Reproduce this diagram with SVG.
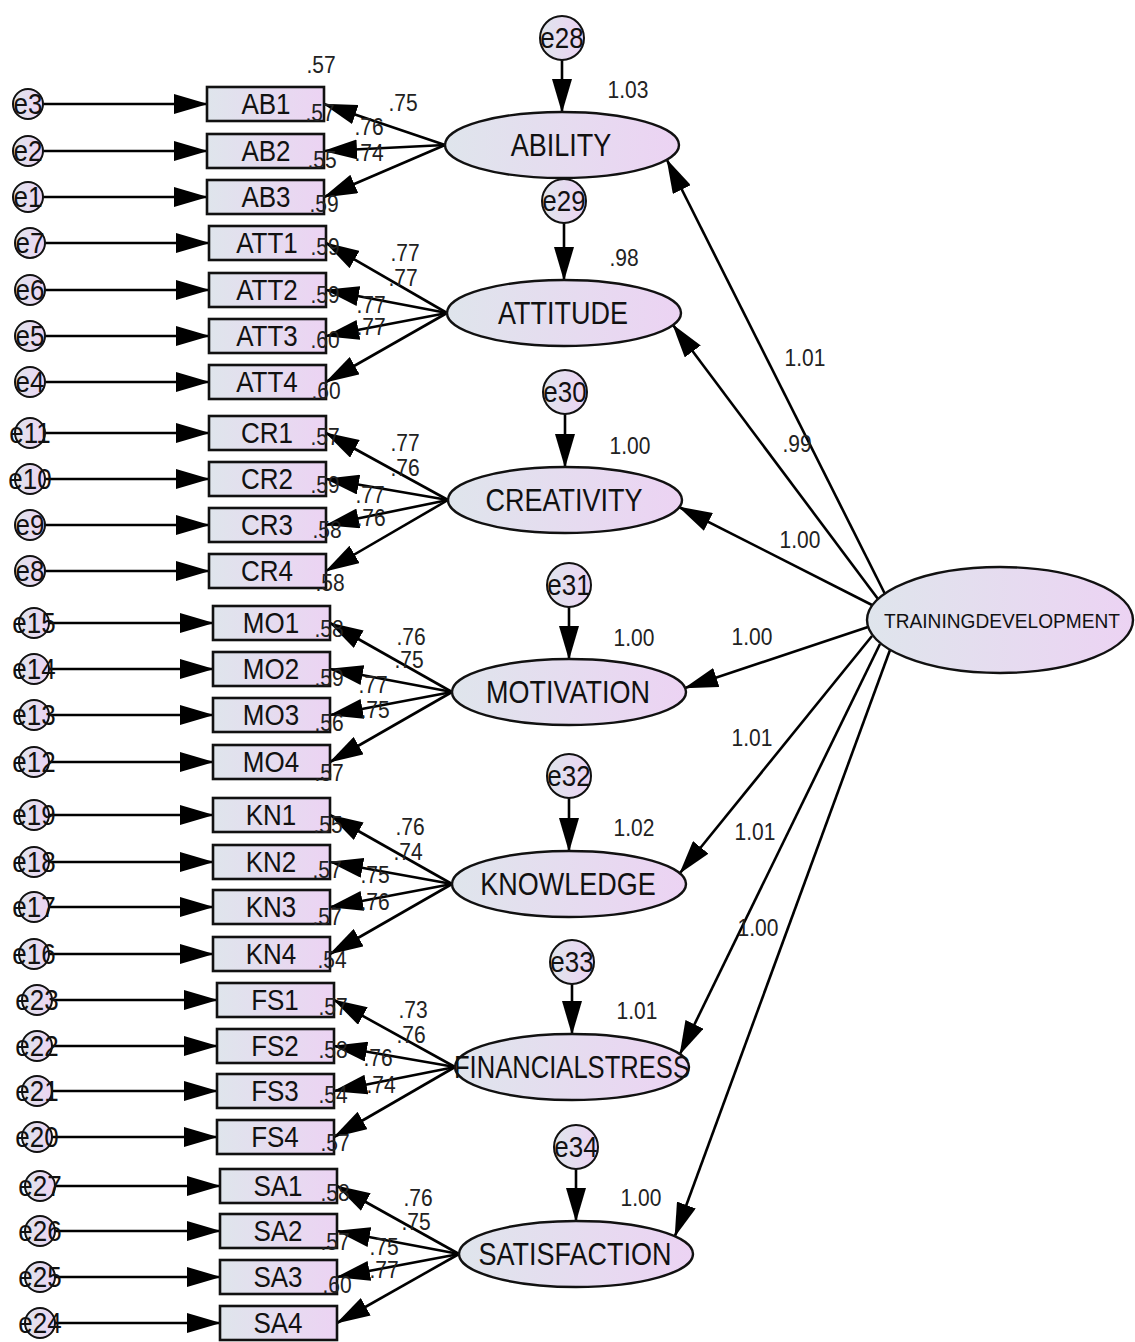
<svg xmlns="http://www.w3.org/2000/svg" width="1135" height="1342" viewBox="0 0 1135 1342">
<defs>
<linearGradient id="g" x1="0" y1="0" x2="1" y2="0">
<stop offset="0" stop-color="#dfe5ec"/>
<stop offset="1" stop-color="#ecd3f3"/>
</linearGradient>
<marker id="ah" viewBox="0 0 34 20" refX="33" refY="10" markerWidth="34" markerHeight="20" markerUnits="userSpaceOnUse" orient="auto">
<path d="M0,0 L34,10 L0,20 z" fill="#000"/>
</marker>
</defs>
<style>
.box{fill:url(#g);stroke:#111;stroke-width:2.6}
.lat{fill:url(#g);stroke:#111;stroke-width:2.4}
.err{fill:url(#g);stroke:#111;stroke-width:2}
text{transform-box:fill-box;transform-origin:center;transform:scaleY(1.14)}
.t{font-family:"Liberation Sans",Arial,sans-serif;font-size:26px;fill:#111;text-anchor:middle}
.tl{font-family:"Liberation Sans",Arial,sans-serif;font-size:27px;fill:#111;text-anchor:middle}
.ts{font-family:"Liberation Sans",Arial,sans-serif;font-size:18px;fill:#111;text-anchor:middle}
.n{font-family:"Liberation Sans",Arial,sans-serif;font-size:21px;fill:#222;text-anchor:middle}
.c line{stroke:#000;stroke-width:2.6;marker-end:url(#ah)}
</style>
<rect width="1135" height="1342" fill="#fff"/>

<g id="connectors" class="c">
<line x1="43" y1="104" x2="207" y2="104"/>
<line x1="43" y1="151" x2="207" y2="151"/>
<line x1="43" y1="197" x2="207" y2="197"/>
<line x1="45" y1="243" x2="209" y2="243"/>
<line x1="45" y1="290" x2="209" y2="290"/>
<line x1="45" y1="336" x2="209" y2="336"/>
<line x1="45" y1="382" x2="209" y2="382"/>
<line x1="45" y1="433" x2="209" y2="433"/>
<line x1="45" y1="479" x2="209" y2="479"/>
<line x1="45" y1="525" x2="209" y2="525"/>
<line x1="45" y1="571" x2="209" y2="571"/>
<line x1="49" y1="623" x2="213" y2="623"/>
<line x1="49" y1="669" x2="213" y2="669"/>
<line x1="49" y1="715" x2="213" y2="715"/>
<line x1="49" y1="762" x2="213" y2="762"/>
<line x1="49" y1="815" x2="213" y2="815"/>
<line x1="49" y1="862" x2="213" y2="862"/>
<line x1="49" y1="907" x2="213" y2="907"/>
<line x1="49" y1="954" x2="213" y2="954"/>
<line x1="52" y1="1000" x2="217" y2="1000"/>
<line x1="52" y1="1046" x2="217" y2="1046"/>
<line x1="52" y1="1091" x2="217" y2="1091"/>
<line x1="52" y1="1137" x2="217" y2="1137"/>
<line x1="55" y1="1186" x2="220" y2="1186"/>
<line x1="55" y1="1231" x2="220" y2="1231"/>
<line x1="55" y1="1277" x2="220" y2="1277"/>
<line x1="55" y1="1323" x2="220" y2="1323"/>
<line x1="445" y1="145" x2="324" y2="104"/>
<line x1="445" y1="145" x2="324" y2="151"/>
<line x1="445" y1="145" x2="324" y2="197"/>
<line x1="447" y1="313" x2="326" y2="243"/>
<line x1="447" y1="313" x2="326" y2="290"/>
<line x1="447" y1="313" x2="326" y2="336"/>
<line x1="447" y1="313" x2="326" y2="382"/>
<line x1="448" y1="500" x2="326" y2="433"/>
<line x1="448" y1="500" x2="326" y2="479"/>
<line x1="448" y1="500" x2="326" y2="525"/>
<line x1="448" y1="500" x2="326" y2="571"/>
<line x1="452" y1="692" x2="330" y2="623"/>
<line x1="452" y1="692" x2="330" y2="669"/>
<line x1="452" y1="692" x2="330" y2="715"/>
<line x1="452" y1="692" x2="330" y2="762"/>
<line x1="452" y1="884" x2="330" y2="815"/>
<line x1="452" y1="884" x2="330" y2="862"/>
<line x1="452" y1="884" x2="330" y2="907"/>
<line x1="452" y1="884" x2="330" y2="954"/>
<line x1="455" y1="1067" x2="334" y2="1000"/>
<line x1="455" y1="1067" x2="334" y2="1046"/>
<line x1="455" y1="1067" x2="334" y2="1091"/>
<line x1="455" y1="1067" x2="334" y2="1137"/>
<line x1="459" y1="1254" x2="337" y2="1186"/>
<line x1="459" y1="1254" x2="337" y2="1231"/>
<line x1="459" y1="1254" x2="337" y2="1277"/>
<line x1="459" y1="1254" x2="337" y2="1323"/>
<line x1="562" y1="60" x2="562" y2="112"/>
<line x1="564" y1="223" x2="564" y2="280"/>
<line x1="565" y1="414" x2="565" y2="467"/>
<line x1="569" y1="607" x2="569" y2="659"/>
<line x1="569" y1="798" x2="569" y2="851"/>
<line x1="572" y1="984" x2="572" y2="1034"/>
<line x1="576" y1="1169" x2="576" y2="1221"/>
<line x1="885" y1="594" x2="667" y2="160"/>
<line x1="878" y1="599" x2="673" y2="325"/>
<line x1="872" y1="605" x2="679" y2="507"/>
<line x1="868" y1="627" x2="685" y2="688"/>
<line x1="872" y1="636" x2="680" y2="873"/>
<line x1="880" y1="644" x2="680" y2="1054"/>
<line x1="890" y1="650" x2="675" y2="1236"/>
</g>

<g id="TRAININGDEVELOPMENT"><ellipse class="lat" cx="1000" cy="620" rx="133" ry="53"/><text class="ts" x="1002" y="627" textLength="236" lengthAdjust="spacingAndGlyphs">TRAININGDEVELOPMENT</text></g>

<g id="ABILITY"><ellipse class="lat" cx="562" cy="145" rx="117" ry="33"/><text class="tl" x="561" y="155">ABILITY</text></g>
<g id="ATTITUDE"><ellipse class="lat" cx="564" cy="313" rx="117" ry="33"/><text class="tl" x="563" y="323">ATTITUDE</text></g>
<g id="CREATIVITY"><ellipse class="lat" cx="565" cy="500" rx="117" ry="33"/><text class="tl" x="564" y="510">CREATIVITY</text></g>
<g id="MOTIVATION"><ellipse class="lat" cx="569" cy="692" rx="117" ry="33"/><text class="tl" x="568" y="702">MOTIVATION</text></g>
<g id="KNOWLEDGE"><ellipse class="lat" cx="569" cy="884" rx="117" ry="33"/><text class="tl" x="568" y="894">KNOWLEDGE</text></g>
<g id="FINANCIALSTRESS"><ellipse class="lat" cx="572" cy="1067" rx="117" ry="33"/><text class="tl" x="572" y="1077" textLength="236" lengthAdjust="spacingAndGlyphs">FINANCIALSTRESS</text></g>
<g id="SATISFACTION"><ellipse class="lat" cx="576" cy="1254" rx="117" ry="33"/><text class="tl" x="575" y="1264">SATISFACTION</text></g>

<g id="e28"><circle class="err" cx="562" cy="38" r="22"/><text class="t" x="562" y="47">e28</text></g>
<g id="e29"><circle class="err" cx="564" cy="201" r="22"/><text class="t" x="564" y="210">e29</text></g>
<g id="e30"><circle class="err" cx="565" cy="392" r="22"/><text class="t" x="565" y="401">e30</text></g>
<g id="e31"><circle class="err" cx="569" cy="585" r="22"/><text class="t" x="569" y="594">e31</text></g>
<g id="e32"><circle class="err" cx="569" cy="776" r="22"/><text class="t" x="569" y="785">e32</text></g>
<g id="e33"><circle class="err" cx="572" cy="962" r="22"/><text class="t" x="572" y="971">e33</text></g>
<g id="e34"><circle class="err" cx="576" cy="1147" r="22"/><text class="t" x="576" y="1156">e34</text></g>

<g id="AB1"><rect class="box" x="207" y="87" width="117" height="34"/><text class="t" x="266" y="113">AB1</text></g>
<g id="AB2"><rect class="box" x="207" y="134" width="117" height="34"/><text class="t" x="266" y="160">AB2</text></g>
<g id="AB3"><rect class="box" x="207" y="180" width="117" height="34"/><text class="t" x="266" y="206">AB3</text></g>
<g id="ATT1"><rect class="box" x="209" y="226" width="117" height="34"/><text class="t" x="267" y="252">ATT1</text></g>
<g id="ATT2"><rect class="box" x="209" y="273" width="117" height="34"/><text class="t" x="267" y="299">ATT2</text></g>
<g id="ATT3"><rect class="box" x="209" y="319" width="117" height="34"/><text class="t" x="267" y="345">ATT3</text></g>
<g id="ATT4"><rect class="box" x="209" y="365" width="117" height="34"/><text class="t" x="267" y="391">ATT4</text></g>
<g id="CR1"><rect class="box" x="209" y="416" width="117" height="34"/><text class="t" x="267" y="442">CR1</text></g>
<g id="CR2"><rect class="box" x="209" y="462" width="117" height="34"/><text class="t" x="267" y="488">CR2</text></g>
<g id="CR3"><rect class="box" x="209" y="508" width="117" height="34"/><text class="t" x="267" y="534">CR3</text></g>
<g id="CR4"><rect class="box" x="209" y="554" width="117" height="34"/><text class="t" x="267" y="580">CR4</text></g>
<g id="MO1"><rect class="box" x="213" y="606" width="117" height="34"/><text class="t" x="271" y="632">MO1</text></g>
<g id="MO2"><rect class="box" x="213" y="652" width="117" height="34"/><text class="t" x="271" y="678">MO2</text></g>
<g id="MO3"><rect class="box" x="213" y="698" width="117" height="34"/><text class="t" x="271" y="724">MO3</text></g>
<g id="MO4"><rect class="box" x="213" y="745" width="117" height="34"/><text class="t" x="271" y="771">MO4</text></g>
<g id="KN1"><rect class="box" x="213" y="798" width="117" height="34"/><text class="t" x="271" y="824">KN1</text></g>
<g id="KN2"><rect class="box" x="213" y="845" width="117" height="34"/><text class="t" x="271" y="871">KN2</text></g>
<g id="KN3"><rect class="box" x="213" y="890" width="117" height="34"/><text class="t" x="271" y="916">KN3</text></g>
<g id="KN4"><rect class="box" x="213" y="937" width="117" height="34"/><text class="t" x="271" y="963">KN4</text></g>
<g id="FS1"><rect class="box" x="217" y="983" width="117" height="34"/><text class="t" x="275" y="1009">FS1</text></g>
<g id="FS2"><rect class="box" x="217" y="1029" width="117" height="34"/><text class="t" x="275" y="1055">FS2</text></g>
<g id="FS3"><rect class="box" x="217" y="1074" width="117" height="34"/><text class="t" x="275" y="1100">FS3</text></g>
<g id="FS4"><rect class="box" x="217" y="1120" width="117" height="34"/><text class="t" x="275" y="1146">FS4</text></g>
<g id="SA1"><rect class="box" x="220" y="1169" width="117" height="34"/><text class="t" x="278" y="1195">SA1</text></g>
<g id="SA2"><rect class="box" x="220" y="1214" width="117" height="34"/><text class="t" x="278" y="1240">SA2</text></g>
<g id="SA3"><rect class="box" x="220" y="1260" width="117" height="34"/><text class="t" x="278" y="1286">SA3</text></g>
<g id="SA4"><rect class="box" x="220" y="1306" width="117" height="34"/><text class="t" x="278" y="1332">SA4</text></g>

<g id="e3"><circle class="err" cx="28" cy="104" r="15"/><text class="t" x="28" y="113">e3</text></g>
<g id="e2"><circle class="err" cx="28" cy="151" r="15"/><text class="t" x="28" y="160">e2</text></g>
<g id="e1"><circle class="err" cx="28" cy="197" r="15"/><text class="t" x="28" y="206">e1</text></g>
<g id="e7"><circle class="err" cx="30" cy="243" r="15"/><text class="t" x="30" y="252">e7</text></g>
<g id="e6"><circle class="err" cx="30" cy="290" r="15"/><text class="t" x="30" y="299">e6</text></g>
<g id="e5"><circle class="err" cx="30" cy="336" r="15"/><text class="t" x="30" y="345">e5</text></g>
<g id="e4"><circle class="err" cx="30" cy="382" r="15"/><text class="t" x="30" y="391">e4</text></g>
<g id="e11"><circle class="err" cx="30" cy="433" r="15"/><text class="t" x="30" y="442">e11</text></g>
<g id="e10"><circle class="err" cx="30" cy="479" r="15"/><text class="t" x="30" y="488">e10</text></g>
<g id="e9"><circle class="err" cx="30" cy="525" r="15"/><text class="t" x="30" y="534">e9</text></g>
<g id="e8"><circle class="err" cx="30" cy="571" r="15"/><text class="t" x="30" y="580">e8</text></g>
<g id="e15"><circle class="err" cx="34" cy="623" r="15"/><text class="t" x="34" y="632">e15</text></g>
<g id="e14"><circle class="err" cx="34" cy="669" r="15"/><text class="t" x="34" y="678">e14</text></g>
<g id="e13"><circle class="err" cx="34" cy="715" r="15"/><text class="t" x="34" y="724">e13</text></g>
<g id="e12"><circle class="err" cx="34" cy="762" r="15"/><text class="t" x="34" y="771">e12</text></g>
<g id="e19"><circle class="err" cx="34" cy="815" r="15"/><text class="t" x="34" y="824">e19</text></g>
<g id="e18"><circle class="err" cx="34" cy="862" r="15"/><text class="t" x="34" y="871">e18</text></g>
<g id="e17"><circle class="err" cx="34" cy="907" r="15"/><text class="t" x="34" y="916">e17</text></g>
<g id="e16"><circle class="err" cx="34" cy="954" r="15"/><text class="t" x="34" y="963">e16</text></g>
<g id="e23"><circle class="err" cx="37" cy="1000" r="15"/><text class="t" x="37" y="1009">e23</text></g>
<g id="e22"><circle class="err" cx="37" cy="1046" r="15"/><text class="t" x="37" y="1055">e22</text></g>
<g id="e21"><circle class="err" cx="37" cy="1091" r="15"/><text class="t" x="37" y="1100">e21</text></g>
<g id="e20"><circle class="err" cx="37" cy="1137" r="15"/><text class="t" x="37" y="1146">e20</text></g>
<g id="e27"><circle class="err" cx="40" cy="1186" r="15"/><text class="t" x="40" y="1195">e27</text></g>
<g id="e26"><circle class="err" cx="40" cy="1231" r="15"/><text class="t" x="40" y="1240">e26</text></g>
<g id="e25"><circle class="err" cx="40" cy="1277" r="15"/><text class="t" x="40" y="1286">e25</text></g>
<g id="e24"><circle class="err" cx="40" cy="1323" r="15"/><text class="t" x="40" y="1332">e24</text></g>

<g id="labels">
<text class="n" x="321" y="72">.57</text>
<text class="n" x="320" y="120">.57</text>
<text class="n" x="322" y="167">.55</text>
<text class="n" x="324" y="211">.59</text>
<text class="n" x="403" y="110">.75</text>
<text class="n" x="369" y="134">.76</text>
<text class="n" x="369" y="160">.74</text>

<text class="n" x="325" y="254">.59</text>
<text class="n" x="325" y="302">.59</text>
<text class="n" x="325" y="347">.60</text>
<text class="n" x="326" y="398">.60</text>
<text class="n" x="405" y="260">.77</text>
<text class="n" x="403" y="285">.77</text>
<text class="n" x="371" y="312">.77</text>
<text class="n" x="371" y="334">.77</text>

<text class="n" x="325" y="444">.57</text>
<text class="n" x="325" y="492">.59</text>
<text class="n" x="327" y="537">.58</text>
<text class="n" x="330" y="590">.58</text>
<text class="n" x="405" y="450">.77</text>
<text class="n" x="405" y="475">.76</text>
<text class="n" x="370" y="502">.77</text>
<text class="n" x="371" y="525">.76</text>

<text class="n" x="329" y="636">.58</text>
<text class="n" x="329" y="685">.59</text>
<text class="n" x="329" y="730">.56</text>
<text class="n" x="329" y="780">.57</text>
<text class="n" x="411" y="644">.76</text>
<text class="n" x="409" y="667">.75</text>
<text class="n" x="373" y="692">.77</text>
<text class="n" x="375" y="717">.75</text>

<text class="n" x="328" y="832">.55</text>
<text class="n" x="327" y="877">.57</text>
<text class="n" x="327" y="924">.57</text>
<text class="n" x="332" y="967">.54</text>
<text class="n" x="410" y="834">.76</text>
<text class="n" x="408" y="859">.74</text>
<text class="n" x="375" y="882">.75</text>
<text class="n" x="375" y="909">.76</text>

<text class="n" x="333" y="1014">.57</text>
<text class="n" x="333" y="1057">.58</text>
<text class="n" x="333" y="1102">.54</text>
<text class="n" x="335" y="1150">.57</text>
<text class="n" x="413" y="1017">.73</text>
<text class="n" x="411" y="1042">.76</text>
<text class="n" x="378" y="1065">.76</text>
<text class="n" x="381" y="1092">.74</text>

<text class="n" x="335" y="1200">.58</text>
<text class="n" x="335" y="1249">.57</text>
<text class="n" x="337" y="1292">.60</text>
<text class="n" x="418" y="1205">.76</text>
<text class="n" x="416" y="1229">.75</text>
<text class="n" x="384" y="1254">.75</text>
<text class="n" x="384" y="1277">.77</text>

<text class="n" x="628" y="97">1.03</text>
<text class="n" x="624" y="265">.98</text>
<text class="n" x="630" y="453">1.00</text>
<text class="n" x="634" y="645">1.00</text>
<text class="n" x="634" y="835">1.02</text>
<text class="n" x="637" y="1018">1.01</text>
<text class="n" x="641" y="1205">1.00</text>

<text class="n" x="805" y="365">1.01</text>
<text class="n" x="797" y="451">.99</text>
<text class="n" x="800" y="547">1.00</text>
<text class="n" x="752" y="644">1.00</text>
<text class="n" x="752" y="745">1.01</text>
<text class="n" x="755" y="839">1.01</text>
<text class="n" x="758" y="935">1.00</text>
</g>
</svg>
